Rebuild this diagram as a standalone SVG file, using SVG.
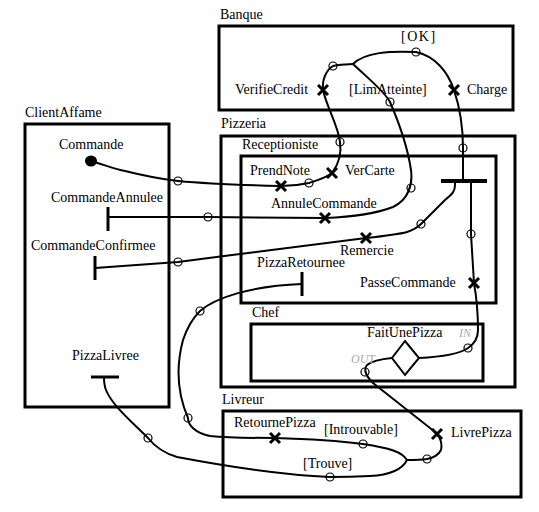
<svg xmlns="http://www.w3.org/2000/svg" xmlns:xlink="http://www.w3.org/1999/xlink" width="539" height="512" viewBox="0 0 539 512" font-family="'Liberation Serif', 'DejaVu Serif', serif">
<style>
text{font-family:'Liberation Serif','DejaVu Serif',serif;font-size:14px;fill:#000}
.io{font-style:italic;fill:#aaa;font-size:12px}
.box{fill:none;stroke:#000;stroke-width:3}
.cn{fill:none;stroke:#000;stroke-width:2;stroke-linejoin:round;stroke-linecap:round}
.ring{fill:none;stroke:#000;stroke-width:1.2}
.xm{fill:none;stroke:#000;stroke-width:3}
.bar{stroke:#000;stroke-width:3}
</style>
<defs>
<path id="x" class="xm" d="M-5,-5L5,5M-5,5L5,-5"/>
</defs>
<rect width="539" height="512" fill="#fff"/>

<g id="Banque">
<text x="220" y="19">Banque</text>
<rect class="box" x="219" y="26" width="294" height="84"/>
</g>
<g id="Pizzeria">
<text x="221" y="128">Pizzeria</text>
<rect class="box" x="221" y="136" width="294" height="251"/>
</g>
<g id="Receptioniste">
<text x="242" y="149">Receptioniste</text>
<rect class="box" x="241" y="156" width="255" height="147"/>
</g>
<g id="Chef">
<text x="252" y="317">Chef</text>
<rect class="box" x="251" y="324" width="232" height="57"/>
</g>
<g id="ClientAffame">
<text x="25" y="117">ClientAffame</text>
<rect class="box" x="25" y="124" width="144" height="283"/>
</g>
<g id="Livreur">
<text x="222" y="404">Livreur</text>
<rect class="box" x="223" y="411" width="298" height="86"/>
</g>

<g id="connectors">
<path class="cn" d="M91,161 C105,165 115,169 125,171 C145,176 160,179 178,181 C210,184 240,185 281,186 C290,186 300,185 309,183 C318,180 326,178 332,173"/>
<path class="cn" d="M332,173 C338,165 342,155 340,142 C338,125 327,108 323,90"/>
<path class="cn" d="M323,90 C322,80 326,70 333,66 C340,64 346,65 353,64"/>
<path class="cn" d="M353,64 C365,52 390,51 416,52 C435,56 448,72 454,90 C460,108 463,125 463,148 L463,181"/>
<path class="cn" d="M353,64 C370,80 385,92 390,102 C400,125 408,150 411,170 C413,185 408,200 393,207 C375,214 350,217 325,218 L208,217 L108,217"/>
<path class="cn" d="M95,268 L178,262 C240,254 300,246 366,238 C385,236 400,234 407,232 C413,230 417,228 421,224 L445,200 C452,194 455,192 455,185 L455,181"/>
<path class="cn" d="M471,181 L471,234 C472,250 473,268 474,283 C477,300 478,315 478,330 C478,338 474,344 468,348 C458,355 440,357 419,358"/>
<path class="cn" d="M392,358 C382,359 372,361 367,365 C363,370 366,376 373,383 L430,428 C438,434 443,440 441,450 C438,456 432,458 427,459 C420,460 412,460 407,460"/>
<path class="cn" d="M407,460 C402,452 390,448 363,444 C340,441 310,439 275,438 C250,438 230,438 210,436 C195,433 188,425 188,418 C178,395 175,370 183,340 C188,325 195,316 200,311 C215,298 250,286 302,284"/>
<path class="cn" d="M407,460 C402,470 390,475 370,476 C350,477 340,477 330,477 C280,475 230,467 177,457 C160,452 152,443 148,438 C130,420 112,405 106,390 C104,385 104,380 104,377"/>
<g>
<circle class="ring" cx="178" cy="181" r="4"/>
<circle class="ring" cx="309" cy="183" r="4"/>
<circle class="ring" cx="340" cy="142" r="4"/>
<circle class="ring" cx="333" cy="66" r="4"/>
<circle class="ring" cx="416" cy="52" r="4"/>
<circle class="ring" cx="390" cy="102" r="4"/>
<circle class="ring" cx="411" cy="188" r="4"/>
<circle class="ring" cx="208" cy="217" r="4"/>
<circle class="ring" cx="463" cy="148" r="4"/>
<circle class="ring" cx="421" cy="224" r="4"/>
<circle class="ring" cx="178" cy="262" r="4"/>
<circle class="ring" cx="471" cy="234" r="4"/>
<circle class="ring" cx="468" cy="348" r="4"/>
<circle class="ring" cx="365" cy="372" r="4"/>
<circle class="ring" cx="427" cy="459" r="4"/>
<circle class="ring" cx="363" cy="444" r="4"/>
<circle class="ring" cx="188" cy="418" r="4"/>
<circle class="ring" cx="200" cy="311" r="4"/>
<circle class="ring" cx="330" cy="477" r="4"/>
<circle class="ring" cx="148" cy="438" r="4"/>
</g>
</g>

<g id="Commande">
<text x="59" y="149">Commande</text>
<ellipse cx="91" cy="161" rx="6" ry="5.5" fill="#000"/>
</g>
<g id="CommandeAnnulee">
<text x="51" y="202">CommandeAnnulee</text>
<line class="bar" x1="108" y1="207" x2="108" y2="231"/>
</g>
<g id="CommandeConfirmee">
<text x="31" y="250">CommandeConfirmee</text>
<line class="bar" x1="95" y1="256" x2="95" y2="280"/>
</g>
<g id="PizzaLivree">
<text x="72" y="360">PizzaLivree</text>
<line class="bar" x1="91" y1="377" x2="119" y2="377"/>
</g>
<g id="VerifieCredit">
<text x="235" y="94">VerifieCredit</text>
<use xlink:href="#x" x="323" y="90"/>
</g>
<g id="LimAtteinte">
<text x="349" y="94">[LimAtteinte]</text>
</g>
<g id="OK">
<text x="401" y="41" letter-spacing="1.5">[OK]</text>
</g>
<g id="Charge">
<text x="467" y="94">Charge</text>
<use xlink:href="#x" x="454" y="90"/>
</g>
<g id="PrendNote">
<text x="250" y="175">PrendNote</text>
<use xlink:href="#x" x="281" y="186"/>
</g>
<g id="VerCarte">
<text x="345" y="175">VerCarte</text>
<use xlink:href="#x" x="332" y="173"/>
</g>
<g id="AnnuleCommande">
<text x="271" y="208">AnnuleCommande</text>
<use xlink:href="#x" x="325" y="218"/>
</g>
<g id="Remercie">
<text x="340" y="255">Remercie</text>
<use xlink:href="#x" x="366" y="238"/>
</g>
<g id="Fork">
<line x1="441" y1="181" x2="487" y2="181" stroke="#000" stroke-width="4"/>
</g>
<g id="PizzaRetournee">
<text x="257" y="267">PizzaRetournee</text>
<line class="bar" x1="302" y1="272" x2="302" y2="296"/>
</g>
<g id="PasseCommande">
<text x="360" y="287">PasseCommande</text>
<use xlink:href="#x" x="474" y="283"/>
</g>
<g id="FaitUnePizza">
<text x="367" y="337">FaitUnePizza</text>
<path d="M405,341 L419,358 L405,375 L392,358 Z" fill="#fff" stroke="#000" stroke-width="2"/>
<text class="io" x="459" y="337">IN</text>
<text class="io" x="351" y="363">OUT</text>
</g>
<g id="RetournePizza">
<text x="234" y="427">RetournePizza</text>
<use xlink:href="#x" x="275" y="438"/>
</g>
<g id="Introuvable">
<text x="324" y="434">[Introuvable]</text>
</g>
<g id="LivrePizza">
<text x="451" y="437">LivrePizza</text>
<use xlink:href="#x" x="437" y="434"/>
</g>
<g id="Trouve">
<text x="303" y="468">[Trouve]</text>
</g>
</svg>
